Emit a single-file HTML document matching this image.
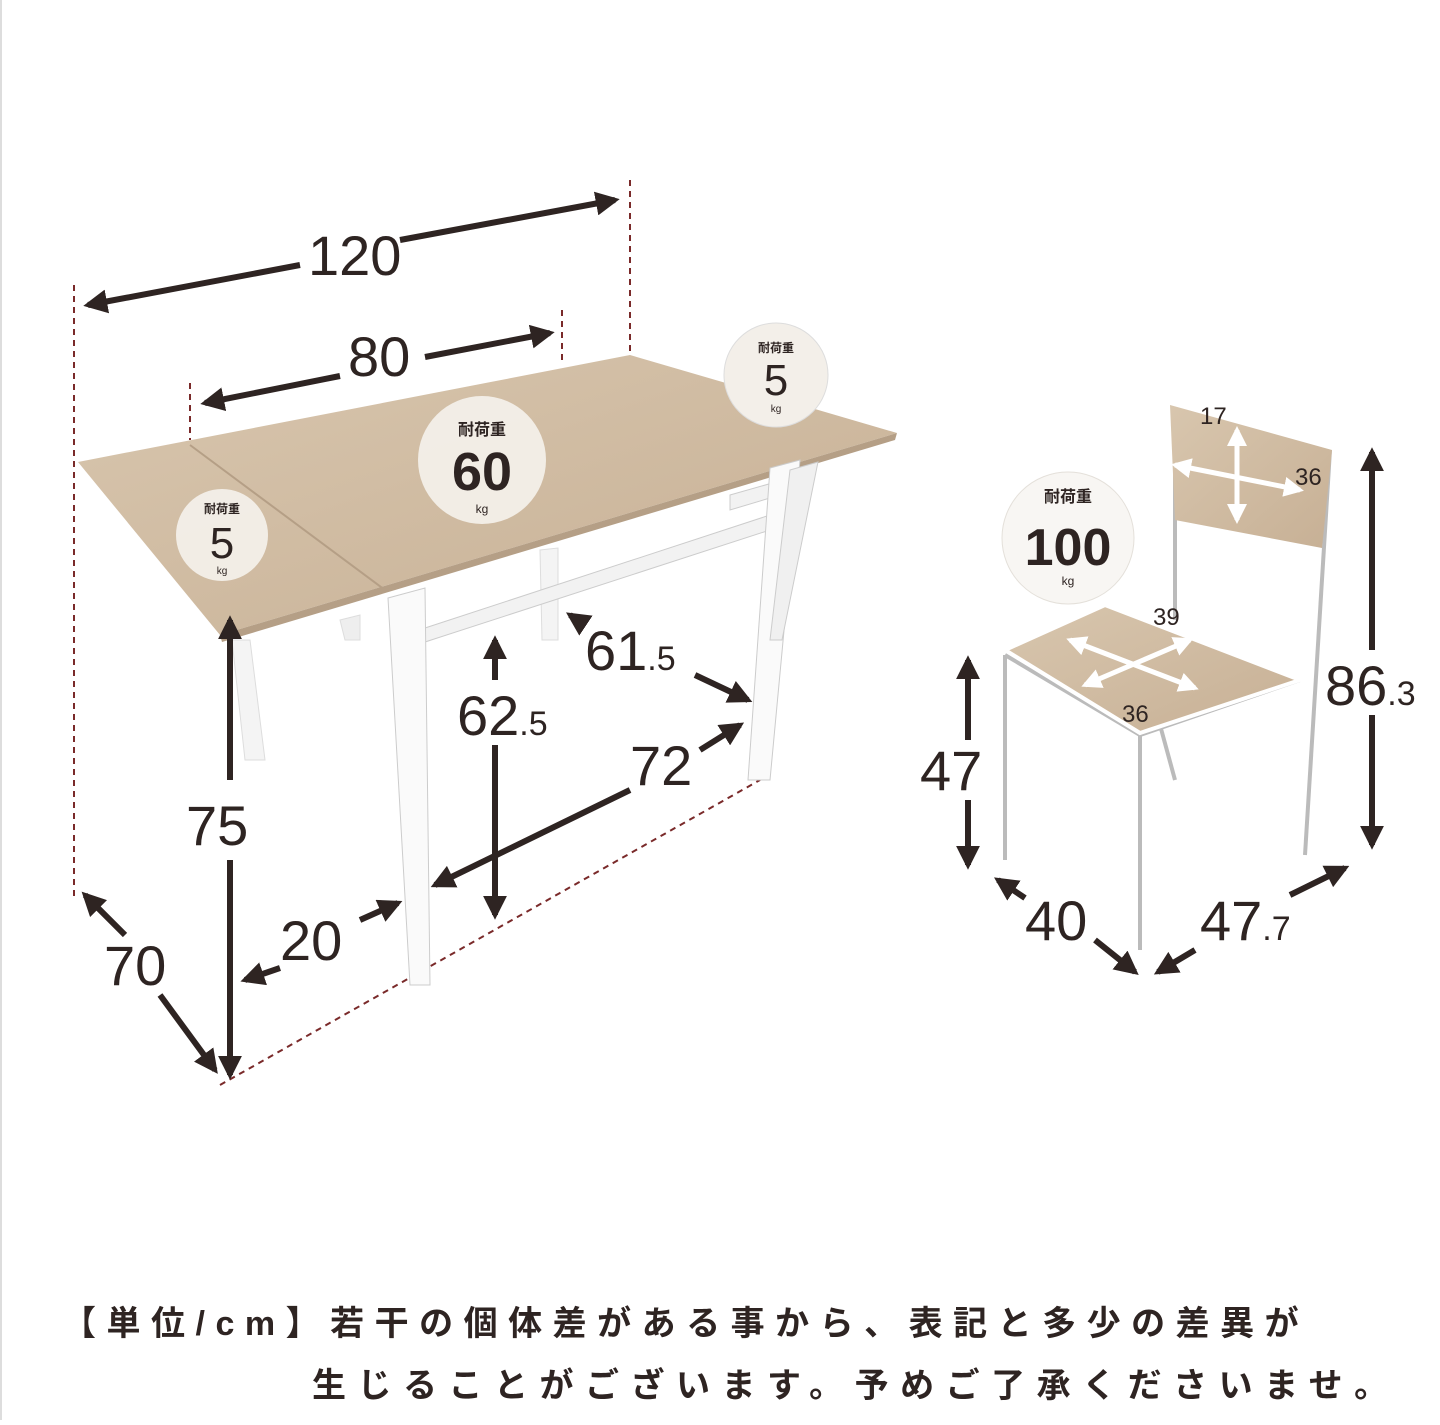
<!DOCTYPE html>
<html><head><meta charset="utf-8"><style>
html,body{margin:0;padding:0;background:#fff;}
body{width:1440px;height:1420px;overflow:hidden;position:relative;}
svg text{font-family:"Liberation Sans","Noto Sans CJK JP",sans-serif;fill:#2e2422;}
.note{position:absolute;font-family:"Liberation Sans","Noto Sans CJK JP",sans-serif;font-size:34px;font-weight:bold;color:#2e2422;white-space:nowrap;}
</style></head><body>
<svg width="1440" height="1420" viewBox="0 0 1440 1420" xmlns="http://www.w3.org/2000/svg">
<defs>
<marker id="a" viewBox="0 0 10 10" refX="8" refY="5" markerWidth="4" markerHeight="4" orient="auto-start-reverse"><path d="M0,0 L10,5 L0,10 z" fill="#2e2422"/></marker>
<marker id="w" viewBox="0 0 10 10" refX="8" refY="5" markerWidth="4" markerHeight="4" orient="auto-start-reverse"><path d="M0,0 L10,5 L0,10 z" fill="#fff"/></marker>
<linearGradient id="wood" x1="0" y1="0" x2="1" y2="1"><stop offset="0" stop-color="#d8c6ae"/><stop offset="1" stop-color="#c7b095"/></linearGradient>
</defs>
<rect x="0" y="0" width="1440" height="1420" fill="#fff"/>
<rect x="0" y="0" width="2" height="1420" fill="#ddd"/>
<g stroke="#7a2a2a" stroke-width="2" stroke-dasharray="6,5" fill="none">
<line x1="74" y1="285" x2="74" y2="900"/>
<line x1="630" y1="180" x2="630" y2="355"/>
<line x1="562" y1="310" x2="562" y2="365"/>
<line x1="190" y1="383" x2="190" y2="440"/>
<line x1="220" y1="1085" x2="760" y2="780"/>
</g>
<polygon points="232,640 250,640 265,760 245,760" fill="#f4f4f4" stroke="#ddd"/>
<polygon points="540,550 558,548 558,640 542,640" fill="#f4f4f4" stroke="#ddd"/>
<polygon points="340,620 360,615 360,640 345,640" fill="#eee" stroke="#ddd"/>
<polygon points="425,628 770,515 770,530 425,642" fill="#f2f2f2" stroke="#ccc"/>
<polygon points="730,495 790,478 790,492 730,510" fill="#f2f2f2" stroke="#ccc"/>
<polygon points="78,462 630,355 897,433 220,635" fill="url(#wood)"/>
<polygon points="220,635 897,433 895,440 222,642" fill="#b59f86"/>
<line x1="190" y1="445" x2="385" y2="590" stroke="#b59f86" stroke-width="2"/>
<polygon points="388,598 425,588 430,985 410,985" fill="#fafafa" stroke="#ccc"/>
<polygon points="770,468 800,460 770,780 748,780" fill="#fafafa" stroke="#ccc"/>
<polygon points="790,470 818,462 782,640 770,640" fill="#f0f0f0" stroke="#ccc"/>
<g stroke="#2e2422" stroke-width="6" fill="none" marker-start="url(#a)" marker-end="url(#a)">
<line x1="88" y1="305" x2="300" y2="265" marker-end="none"/>
<line x1="400" y1="240" x2="615" y2="200" marker-start="none"/>
<line x1="205" y1="403" x2="340" y2="376" marker-end="none"/>
<line x1="425" y1="357" x2="550" y2="333" marker-start="none"/>
<line x1="230" y1="620" x2="230" y2="780" marker-end="none"/>
<line x1="230" y1="860" x2="230" y2="1075" marker-start="none"/>
<line x1="85" y1="895" x2="125" y2="935" marker-end="none"/>
<line x1="160" y1="995" x2="215" y2="1070" marker-start="none"/>
<line x1="245" y1="980" x2="280" y2="968" marker-end="none"/>
<line x1="360" y1="920" x2="398" y2="903" marker-start="none"/>
<line x1="495" y1="640" x2="495" y2="680" marker-end="none"/>
<line x1="495" y1="745" x2="495" y2="915" marker-start="none"/>
<line x1="570" y1="615" x2="585" y2="625" marker-end="none"/>
<line x1="695" y1="675" x2="748" y2="700" marker-start="none"/>
<line x1="435" y1="885" x2="630" y2="790" marker-end="none"/>
<line x1="700" y1="750" x2="740" y2="725" marker-start="none"/>
</g>
<g font-size="56">
<text x="308" y="275">120</text>
<text x="348" y="376">80</text>
<text x="186" y="845">75</text>
<text x="104" y="985">70</text>
<text x="280" y="960">20</text>
<text x="457" y="735">62<tspan font-size="34">.5</tspan></text>
<text x="585" y="670">61<tspan font-size="34">.5</tspan></text>
<text x="630" y="785">72</text>
</g>
<g>
<circle cx="482" cy="460" r="64" fill="#f3efe9" opacity="0.95"/>
<text x="482" y="435" font-size="16" text-anchor="middle" font-weight="bold">耐荷重</text>
<text x="482" y="490" font-size="54" text-anchor="middle" font-weight="bold">60</text>
<text x="482" y="513" font-size="12" text-anchor="middle">kg</text>
<circle cx="222" cy="535" r="46" fill="#f3efe9" opacity="0.95"/>
<text x="222" y="513" font-size="12" text-anchor="middle" font-weight="bold">耐荷重</text>
<text x="222" y="558" font-size="44" text-anchor="middle">5</text>
<text x="222" y="574" font-size="10" text-anchor="middle">kg</text>
<circle cx="776" cy="375" r="52" fill="#f3efe9" stroke="#ddd"/>
<text x="776" y="352" font-size="12" text-anchor="middle" font-weight="bold">耐荷重</text>
<text x="776" y="395" font-size="44" text-anchor="middle">5</text>
<text x="776" y="412" font-size="10" text-anchor="middle">kg</text>
<circle cx="1068" cy="538" r="66" fill="#f8f6f3" stroke="#e4e0da"/>
<text x="1068" y="502" font-size="16" text-anchor="middle" font-weight="bold">耐荷重</text>
<text x="1068" y="565" font-size="52" text-anchor="middle" font-weight="bold">100</text>
<text x="1068" y="585" font-size="12" text-anchor="middle">kg</text>
</g>
<g stroke="#bbb" stroke-width="4" fill="none">
<line x1="1175" y1="410" x2="1175" y2="620"/>
<line x1="1330" y1="450" x2="1305" y2="855"/>
<line x1="1005" y1="655" x2="1005" y2="860"/>
<line x1="1140" y1="735" x2="1140" y2="950"/>
<line x1="1160" y1="725" x2="1175" y2="780"/>
<line x1="1005" y1="655" x2="1140" y2="735"/>
<line x1="1140" y1="735" x2="1300" y2="680"/>
</g>
<polygon points="1170,405 1332,450 1322,548 1175,520" fill="url(#wood)"/>
<polygon points="1005,650 1105,605 1300,680 1140,733" fill="url(#wood)" stroke="#fff" stroke-width="4"/>
<g stroke="#fff" stroke-width="5" fill="none" marker-start="url(#w)" marker-end="url(#w)">
<line x1="1237" y1="430" x2="1237" y2="520"/>
<line x1="1175" y1="465" x2="1300" y2="490"/>
<line x1="1070" y1="640" x2="1195" y2="688"/>
<line x1="1085" y1="685" x2="1190" y2="640"/>
</g>
<g font-size="24">
<text x="1200" y="424">17</text>
<text x="1295" y="485">36</text>
<text x="1153" y="625">39</text>
<text x="1122" y="722">36</text>
</g>
<g stroke="#2e2422" stroke-width="6" fill="none" marker-start="url(#a)" marker-end="url(#a)">
<line x1="1372" y1="452" x2="1372" y2="650" marker-end="none"/>
<line x1="1372" y1="715" x2="1372" y2="845" marker-start="none"/>
<line x1="968" y1="660" x2="968" y2="740" marker-end="none"/>
<line x1="968" y1="800" x2="968" y2="865" marker-start="none"/>
<line x1="998" y1="880" x2="1025" y2="898" marker-end="none"/>
<line x1="1095" y1="940" x2="1135" y2="972" marker-start="none"/>
<line x1="1158" y1="972" x2="1195" y2="950" marker-end="none"/>
<line x1="1290" y1="895" x2="1345" y2="868" marker-start="none"/>
</g>
<g font-size="56">
<text x="1325" y="705">86<tspan font-size="34">.3</tspan></text>
<text x="920" y="790">47</text>
<text x="1025" y="940">40</text>
<text x="1200" y="940">47<tspan font-size="34">.7</tspan></text>
</g>
</svg>
<div class="note" style="left:62px;top:1296px;letter-spacing:10.5px;">【単位/cm】若干の個体差がある事から、表記と多少の差異が</div>
<div class="note" style="left:312px;top:1358px;letter-spacing:11.5px;">生じることがございます。予めご了承くださいませ。</div>
</body></html>
